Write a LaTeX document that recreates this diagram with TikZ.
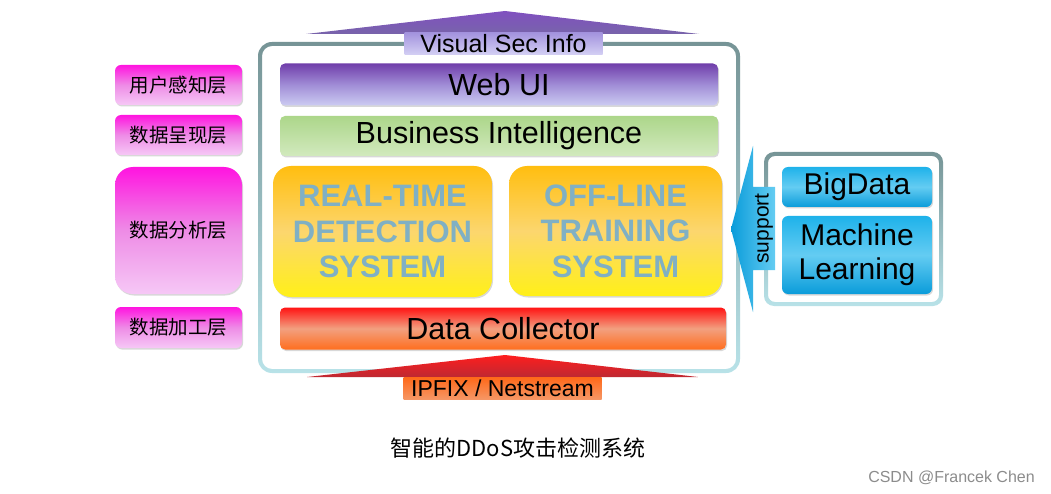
\documentclass[tikz,border=0pt]{standalone}
\usepackage{fontspec}
\setmainfont{Liberation Sans}
\newfontfamily\cjk{Noto Sans CJK SC}
\usetikzlibrary{shadows}
\definecolor{frameTop}{RGB}{118,148,150}
\definecolor{frameBot}{RGB}{184,226,232}
\definecolor{purTop}{RGB}{112,62,170}
\definecolor{purMid}{RGB}{160,140,214}
\definecolor{purBot}{RGB}{204,204,242}
\definecolor{grnTop}{RGB}{172,214,138}
\definecolor{grnBot}{RGB}{210,234,190}
\definecolor{orTop}{RGB}{255,190,16}
\definecolor{orMid}{RGB}{252,214,110}
\definecolor{orBot}{RGB}{255,240,24}
\definecolor{redTop}{RGB}{255,20,20}
\definecolor{redMid}{RGB}{242,160,128}
\definecolor{redBot}{RGB}{255,110,30}
\definecolor{magTop}{RGB}{255,20,224}
\definecolor{magMid}{RGB}{238,140,230}
\definecolor{magBot}{RGB}{246,200,246}
\definecolor{bluTop}{RGB}{30,178,234}
\definecolor{bluMid}{RGB}{100,204,242}
\definecolor{bluBot}{RGB}{10,156,218}
\definecolor{sysText}{RGB}{128,176,196}
\definecolor{arrPurTop}{RGB}{128,80,192}
\definecolor{arrPurBot}{RGB}{120,100,170}
\definecolor{lblPurTop}{RGB}{164,148,222}
\definecolor{lblPurBot}{RGB}{212,208,244}
\definecolor{arrRedTop}{RGB}{255,30,30}
\definecolor{arrRedBot}{RGB}{190,40,50}
\definecolor{ipTop}{RGB}{255,104,24}
\definecolor{ipBot}{RGB}{246,150,100}
\definecolor{wm}{RGB}{140,140,140}
\begin{document}
\begin{tikzpicture}[x=1pt,y=-1pt,
  shd/.style={drop shadow={opacity=0.3,shadow xshift=1pt,shadow yshift=-1.5pt}},
  bar/.style={rounded corners=5pt, inner sep=0pt, shd, font=\fontsize{30.5}{30.5}\selectfont},
  purbar/.style={bar, top color=purTop, bottom color=purBot, middle color=purMid},
  grnbar/.style={bar, top color=grnTop, bottom color=grnBot},
  redbar/.style={bar, top color=redTop, bottom color=redBot, middle color=redMid},
  sysbox/.style={rounded corners=18pt, inner sep=0pt, shd, top color=orTop, bottom color=orBot, middle color=orMid,
     align=center, text=sysText, font=\bfseries\fontsize{31}{35.5}\selectfont},
  layer/.style={rounded corners=6pt, inner sep=0pt, shd, top color=magTop, bottom color=magBot, middle color=magMid,
     minimum width=127pt, font=\cjk\fontsize{19.5}{19.5}\selectfont},
  blubox/.style={rounded corners=6pt, inner sep=0pt, shd, top color=bluTop, bottom color=bluBot, middle color=bluMid,
     minimum width=150pt, align=center, font=\fontsize{30}{34}\selectfont},
  lbl/.style={inner sep=0pt, minimum width=198pt, minimum height=22pt}
]
\useasboundingbox[fill=white] (0,0) rectangle (1051,494);

% main frame (ring)
\shade[top color=frameTop, bottom color=frameBot, even odd rule]
  [rounded corners=14pt] (258,42) rectangle (740,373)
  [rounded corners=10pt] (262,46) rectangle (736,369);

% right frame
\shade[top color=frameTop, bottom color=frameBot, even odd rule]
  [rounded corners=10pt] (764,152) rectangle (943,306)
  [rounded corners=7pt] (768,156) rectangle (939,302);

% layers in main frame
\node[purbar, minimum width=438pt, minimum height=42pt] (webui) at (499,84.5) {Web UI};
\node[grnbar, minimum width=438pt, minimum height=40pt] (bi) at (499,136) {Business Intelligence};
\node[sysbox, minimum width=219pt, minimum height=131pt] (rt) at (382.5,231.5) {REAL-TIME\\DETECTION\\SYSTEM};
\node[sysbox, minimum width=213pt, minimum height=130pt] (ol) at (615.5,231) {OFF-LINE\\TRAINING\\SYSTEM};
\node[redbar, minimum width=446pt, minimum height=42pt] (dc) at (503,328.5) {Data Collector};

% left layer labels
\node[layer, minimum height=40pt] (l1) at (178.5,85) {用户感知层};
\node[layer, minimum height=40pt] (l2) at (178.5,135) {数据呈现层};
\node[layer, minimum height=127pt, rounded corners=18pt] (l3) at (178.5,230.5) {数据分析层};
\node[layer, minimum height=41pt] (l4) at (178.5,327.5) {数据加工层};

% top arrow
\shade[top color=arrPurTop, bottom color=arrPurBot] (306,34) -- (505,11) -- (699,34) -- cycle;
\node[lbl, top color=lblPurTop, bottom color=lblPurBot, font=\fontsize{25}{25}\selectfont] (vsi) at (503.5,44) {Visual Sec Info};

% bottom arrow
\shade[top color=arrRedTop, bottom color=arrRedBot] (307,377) -- (505,355) -- (698,377) -- cycle;
\node[lbl, top color=ipTop, bottom color=ipBot, font=\fontsize{23}{23}\selectfont] (ipfix) at (502.5,388) {IPFIX / Netstream};

% right side boxes
\node[blubox, minimum height=40pt] (bd) at (857,187) {BigData};
\node[blubox, minimum height=78pt] (ml) at (857,255) {Machine\\Learning};

% support arrow
\shade[left color=bluBot, right color=bluMid]
  (731,229) -- (753,146) -- (753,187) -- (775,187) -- (775,270) -- (753,270) -- (753,312) -- cycle;
\node[rotate=90, inner sep=0pt, font=\fontsize{21}{21}\selectfont] (sup) at (764,228.5) {support};

% caption & watermark
\node[font=\cjk\fontsize{22}{22}\selectfont] (cap) at (518,448) {智能的DDoS攻击检测系统};
\node[font=\fontsize{16}{16}\selectfont, text=wm] (mark) at (951.5,478) {CSDN @Francek Chen};
\end{tikzpicture}
\end{document}
